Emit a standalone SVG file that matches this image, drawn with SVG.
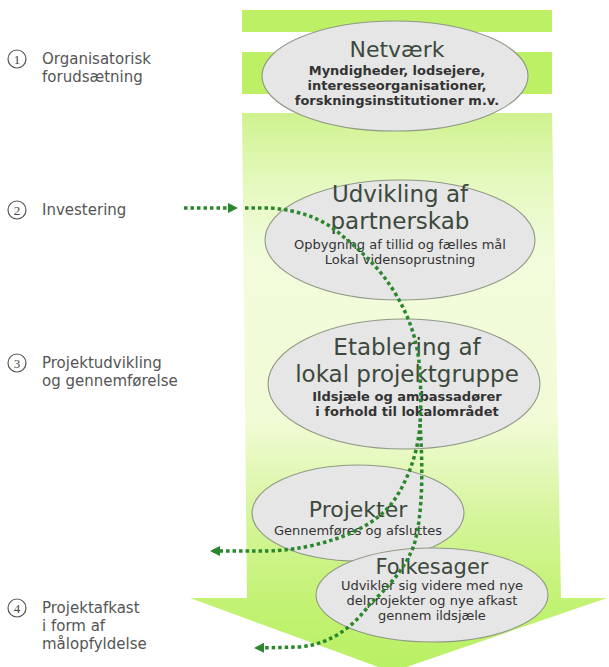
<svg xmlns="http://www.w3.org/2000/svg" width="609" height="667" viewBox="0 0 609 667">
<style>
.lbl{font-family:"DejaVu Sans","Verdana",sans-serif;font-size:15px;fill:#555}
.num{font-family:"Liberation Serif",serif;font-size:13px;fill:#444;text-anchor:middle}
.circ{fill:none;stroke:#555;stroke-width:1.2}
.ell{fill:#e6e6e6;stroke:#8f9886;stroke-width:1.1}
.t{font-family:"DejaVu Sans","Verdana",sans-serif;fill:#3c493c;text-anchor:middle}
.s{font-family:"DejaVu Sans","Verdana",sans-serif;fill:#333;text-anchor:middle;font-size:13px}
.b{font-weight:bold}
.dot{fill:none;stroke:#2b872b;stroke-width:3.5;stroke-dasharray:3.5 3}
.band{fill:#bdf064}
</style>
<defs>
<linearGradient id="g" gradientUnits="userSpaceOnUse" x1="0" y1="113" x2="0" y2="672">
<stop offset="0" stop-color="#cff28f"/>
<stop offset="0.13" stop-color="#e6f9c0"/>
<stop offset="0.26" stop-color="#f2fcdc"/>
<stop offset="0.55" stop-color="#f1fbd6"/>
<stop offset="0.72" stop-color="#d6f59c"/>
<stop offset="0.87" stop-color="#c3f274"/>
<stop offset="1" stop-color="#b9f063"/>
</linearGradient>
<marker id="ah" viewBox="0 0 10 10" refX="8" refY="5" markerWidth="3" markerHeight="3" orient="auto" markerUnits="strokeWidth">
<path d="M0,0 L10,5 L0,10 z" fill="#2b872b"/>
</marker>
</defs>
<rect width="609" height="667" fill="#fff"/>
<g id="arrow">
<rect class="band" x="242" y="10" width="310" height="22"/>
<rect class="band" x="242" y="52" width="310" height="42"/>
<polygon fill="url(#g)" points="242,113 552,113 561,598 607,598 392,672 190,598 247,598"/>
</g>
<g id="labels">
<g id="l1"><circle class="circ" cx="17" cy="59" r="9"/><text class="num" x="17" y="63.5">1</text>
<text class="lbl" x="42" y="64">Organisatorisk</text><text class="lbl" x="42" y="82">forudsætning</text></g>
<g id="l2"><circle class="circ" cx="17" cy="210" r="9"/><text class="num" x="17" y="214.5">2</text>
<text class="lbl" x="42" y="215">Investering</text></g>
<g id="l3"><circle class="circ" cx="17" cy="363" r="9"/><text class="num" x="17" y="367.5">3</text>
<text class="lbl" x="42" y="368">Projektudvikling</text><text class="lbl" x="42" y="386">og gennemførelse</text></g>
<g id="l4"><circle class="circ" cx="17" cy="608" r="9"/><text class="num" x="17" y="612.5">4</text>
<text class="lbl" x="42" y="613">Projektafkast</text><text class="lbl" x="42" y="631">i form af</text><text class="lbl" x="42" y="649">målopfyldelse</text></g>
</g>
<g id="n1">
<ellipse class="ell" cx="395" cy="76" rx="133" ry="55"/>
<text class="t" x="397" y="57" font-size="22">Netværk</text>
<text class="s b" x="397" y="75" font-size="11">Myndigheder, lodsejere,</text>
<text class="s b" x="397" y="90" font-size="11">interesseorganisationer,</text>
<text class="s b" x="397" y="105" font-size="11">forskningsinstitutioner m.v.</text>
</g>
<g id="n2">
<ellipse class="ell" cx="400" cy="240" rx="135" ry="60"/>
<text class="t" x="400" y="202" font-size="23">Udvikling af</text>
<text class="t" x="400" y="229" font-size="23">partnerskab</text>
<text class="s" x="400" y="249">Opbygning af tillid og fælles mål</text>
<text class="s" x="400" y="264">Lokal vidensoprustning</text>
</g>
<g id="n3">
<ellipse class="ell" cx="404" cy="384" rx="136" ry="65"/>
<text class="t" x="407" y="355" font-size="23">Etablering af</text>
<text class="t" x="407" y="382" font-size="23">lokal projektgruppe</text>
<text class="s b" x="407" y="401">Ildsjæle og ambassadører</text>
<text class="s b" x="407" y="416">i forhold til lokalområdet</text>
</g>
<g id="n4">
<ellipse class="ell" cx="358" cy="513" rx="106" ry="48"/>
<text class="t" x="358" y="517" font-size="22">Projekter</text>
<text class="s" x="358" y="535">Gennemføres og afsluttes</text>
</g>
<g id="n5">
<ellipse class="ell" cx="432" cy="595" rx="116" ry="47"/>
<text class="t" x="432" y="574" font-size="21">Folkesager</text>
<text class="s" x="432" y="590">Udvikler sig videre med nye</text>
<text class="s" x="432" y="605">delprojekter og nye afkast</text>
<text class="s" x="432" y="620">gennem ildsjæle</text>
</g>
<g id="connectors">
<path class="dot" d="M184,208 L236,208" marker-end="url(#ah)"/>
<path class="dot" d="M245,208 L270,208 C300,210 325,220 340,234 C360,250 380,268 395,293 C410,318 418,342 420,372 C421,392 421,410 420,424"/>
<path class="dot" d="M420,424 C418,456 405,486 392,503 C375,525 345,538 310,546 C290,550 275,551 262,551 L212,551" marker-end="url(#ah)"/>
<path class="dot" d="M420,424 C423,466 423,515 414,545 C405,570 385,590 370,604 C355,624 335,643 300,647 L256,648" marker-end="url(#ah)"/>
</g>
</svg>
